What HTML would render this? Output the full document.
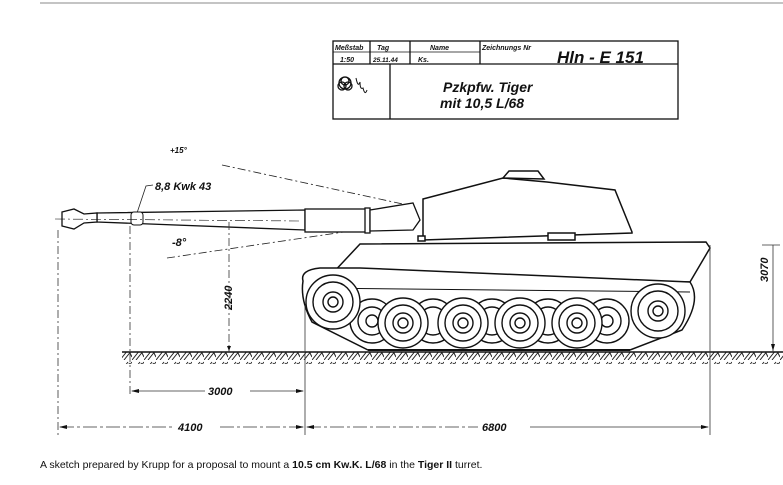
<!DOCTYPE html>
<html><head><meta charset="utf-8"><style>
html,body{margin:0;padding:0;background:#fff;width:783px;height:485px;overflow:hidden}
svg{position:absolute;left:0;top:0}
.hw{font-family:"Liberation Sans",sans-serif;font-style:italic;font-weight:bold;fill:#111}
.cap{position:absolute;left:40px;top:459px;font-family:"Liberation Sans",sans-serif;font-size:10.5px;color:#111;white-space:nowrap}
</style></head><body>
<svg width="783" height="485" viewBox="0 0 783 485">
<defs>
<pattern id="hatch" width="12" height="12" patternUnits="userSpaceOnUse">
<path d="M0 12 L8 2 M4 12 L12 2 M9 3 L12 9" stroke="#222" stroke-width="1" fill="none"/>
</pattern>
</defs>
<line x1="40" y1="3" x2="783" y2="3" stroke="#888" stroke-width="1"/>
<g stroke="#111" fill="none" stroke-width="1.3">
<rect x="333" y="41" width="345" height="78"/>
<line x1="333" y1="64" x2="678" y2="64"/>
<line x1="333" y1="52" x2="480" y2="52" stroke-width="0.8"/>
<line x1="370" y1="41" x2="370" y2="64"/>
<line x1="410" y1="41" x2="410" y2="64"/>
<line x1="480" y1="41" x2="480" y2="64"/>
<line x1="390" y1="64" x2="390" y2="119"/>
<circle cx="345" cy="83" r="6"/><circle cx="342" cy="86" r="4"/><circle cx="348" cy="86" r="4"/><circle cx="345" cy="81" r="4"/>
<path d="M356 78 q2 10 4 4 q0 8 3 6 q2 8 4 2" stroke-width="1"/>
</g>
<text x="335" y="50" class="hw" font-size="7">Meßstab</text>
<text x="377" y="50" class="hw" font-size="7">Tag</text>
<text x="430" y="50" class="hw" font-size="7">Name</text>
<text x="482" y="50" class="hw" font-size="7">Zeichnungs Nr</text>
<text x="340" y="62" class="hw" font-size="7">1:50</text>
<text x="373" y="62" class="hw" font-size="6.5">25.11.44</text>
<text x="418" y="62" class="hw" font-size="7">Ks.</text>
<text x="557" y="63" class="hw" font-size="17" font-weight="normal">Hln - E 151</text>
<text x="443" y="92" class="hw" font-size="14" font-weight="normal">Pzkpfw. Tiger</text>
<text x="440" y="108" class="hw" font-size="14" font-weight="normal">mit 10,5 L/68</text>

<g stroke="#222" stroke-width="0.8" fill="none" stroke-dasharray="8 3 2 3">
<line x1="222" y1="165" x2="412" y2="206"/>
<line x1="167" y1="258" x2="412" y2="222"/>
</g>
<text x="170" y="153" class="hw" font-size="8">+15°</text>
<text x="155" y="190" class="hw" font-size="11" font-weight="normal">8,8 Kwk 43</text>
<path d="M153 185 L146 186 L137 213" stroke="#222" fill="none" stroke-width="0.8"/>
<text x="172" y="246" class="hw" font-size="11" font-weight="normal">-8°</text>

<g stroke="#111" stroke-width="1.3" fill="#fff">
<path d="M97 213 L305 210 L305 230 L97 222 Z"/>
<path d="M62 212 L74 209 L84 214 L97 213 L97 222 L84 223 L74 229 L62 226 Z"/>
<rect x="131" y="212" width="12" height="13" rx="3" stroke-width="1"/>
<rect x="305" y="209" width="62" height="23"/>
<rect x="365" y="208" width="5" height="25"/>
<path d="M370 210 L413 203 L420 220 L413 230 L370 231 Z"/>
</g>
<line x1="55" y1="219" x2="300" y2="221" stroke="#111" stroke-width="0.6" stroke-dasharray="10 3 2 3"/>

<g stroke="#111" stroke-width="1.5" fill="#fff">
<path d="M423 199 L503 178 L547 182 L615 190 L632 232 L632 233 L423 240 Z"/>
<path d="M503 178 L509 171 L538 171 L544 179 Z"/>
<rect x="418" y="236" width="7" height="5"/>
<rect x="548" y="233" width="27" height="7"/>
</g>
<g stroke="#111" stroke-width="1.5" fill="#fff">
<path d="M360 244 L706 242 L710 248 L690 282 L330 276 Z"/>
<path d="M303 281 Q300 270 320 268 L360 268 L690 282 Q702 300 682 330 L630 350 L368 350 L312 322 Q300 300 303 281 Z"/>
<path d="M310 288 L690 292" fill="none" stroke-width="1"/>
</g>
<g stroke="#111" fill="#fff" stroke-width="1.4">
<g><circle cx="372" cy="321" r="22"/><circle cx="372" cy="321" r="14"/><circle cx="372" cy="321" r="6"/></g>
<g><circle cx="433" cy="321" r="22"/><circle cx="433" cy="321" r="14"/></g>
<g><circle cx="492" cy="321" r="22"/><circle cx="492" cy="321" r="14"/></g>
<g><circle cx="548" cy="321" r="22"/><circle cx="548" cy="321" r="14"/></g>
<g><circle cx="607" cy="321" r="22"/><circle cx="607" cy="321" r="14"/><circle cx="607" cy="321" r="6"/></g>
<g><circle cx="333" cy="302" r="27"/><circle cx="333" cy="302" r="20"/><circle cx="333" cy="302" r="10"/><circle cx="333" cy="302" r="5"/></g>
<g><circle cx="658" cy="311" r="27"/><circle cx="658" cy="311" r="20"/><circle cx="658" cy="311" r="10"/><circle cx="658" cy="311" r="5"/></g>
<g><circle cx="403" cy="323" r="25"/><circle cx="403" cy="323" r="18"/><circle cx="403" cy="323" r="10"/><circle cx="403" cy="323" r="5"/></g>
<g><circle cx="463" cy="323" r="25"/><circle cx="463" cy="323" r="18"/><circle cx="463" cy="323" r="10"/><circle cx="463" cy="323" r="5"/></g>
<g><circle cx="520" cy="323" r="25"/><circle cx="520" cy="323" r="18"/><circle cx="520" cy="323" r="10"/><circle cx="520" cy="323" r="5"/></g>
<g><circle cx="577" cy="323" r="25"/><circle cx="577" cy="323" r="18"/><circle cx="577" cy="323" r="10"/><circle cx="577" cy="323" r="5"/></g>
</g>
<path d="M368 350 L630 350" stroke="#111" stroke-width="2"/>

<rect x="122" y="352" width="661" height="12" fill="url(#hatch)"/>
<line x1="122" y1="352" x2="783" y2="352" stroke="#111" stroke-width="1.4"/>

<g stroke="#333" stroke-width="0.8" fill="none">
<line x1="58" y1="230" x2="58" y2="435" stroke-dasharray="8 3 2 3"/>
<line x1="130" y1="226" x2="130" y2="395" stroke-dasharray="8 3 2 3"/>
<line x1="305" y1="305" x2="305" y2="435"/>
<line x1="710" y1="245" x2="710" y2="435"/>
<line x1="229" y1="222" x2="229" y2="352" stroke-dasharray="8 3 2 3"/>
<line x1="773" y1="245" x2="773" y2="352"/>
<line x1="762" y1="245" x2="780" y2="245"/>
<line x1="132" y1="391" x2="205" y2="391"/><line x1="250" y1="391" x2="303" y2="391"/>
<line x1="60" y1="427" x2="175" y2="427" stroke-dasharray="14 3 3 3"/><line x1="220" y1="427" x2="303" y2="427" stroke-dasharray="14 3 3 3"/>
<line x1="307" y1="427" x2="478" y2="427" stroke-dasharray="14 3 3 3"/><line x1="530" y1="427" x2="708" y2="427"/>
</g>
<g fill="#111">
<path d="M131 391 l8 -2 v4z"/><path d="M304 391 l-8 -2 v4z"/>
<path d="M59 427 l8 -2 v4z"/><path d="M304 427 l-8 -2 v4z"/><path d="M306 427 l8 -2 v4z"/><path d="M709 427 l-8 -2 v4z"/>
<path d="M773 351 l-2 -7 h4z"/><path d="M229 351 l-2 -5 h4z"/>
</g>
<text x="208" y="395" class="hw" font-size="11" font-weight="normal">3000</text>
<text x="178" y="431" class="hw" font-size="11" font-weight="normal">4100</text>
<text x="482" y="431" class="hw" font-size="11" font-weight="normal">6800</text>
<text transform="translate(232,310) rotate(-90)" class="hw" font-size="11" font-weight="normal">2240</text>
<text transform="translate(768,282) rotate(-90)" class="hw" font-size="11" font-weight="normal">3070</text>
</svg>
<div class="cap">A sketch prepared by Krupp for a proposal to mount a <b>10.5 cm Kw.K. L/68</b> in the <b>Tiger II</b> turret.</div>
</body></html>
